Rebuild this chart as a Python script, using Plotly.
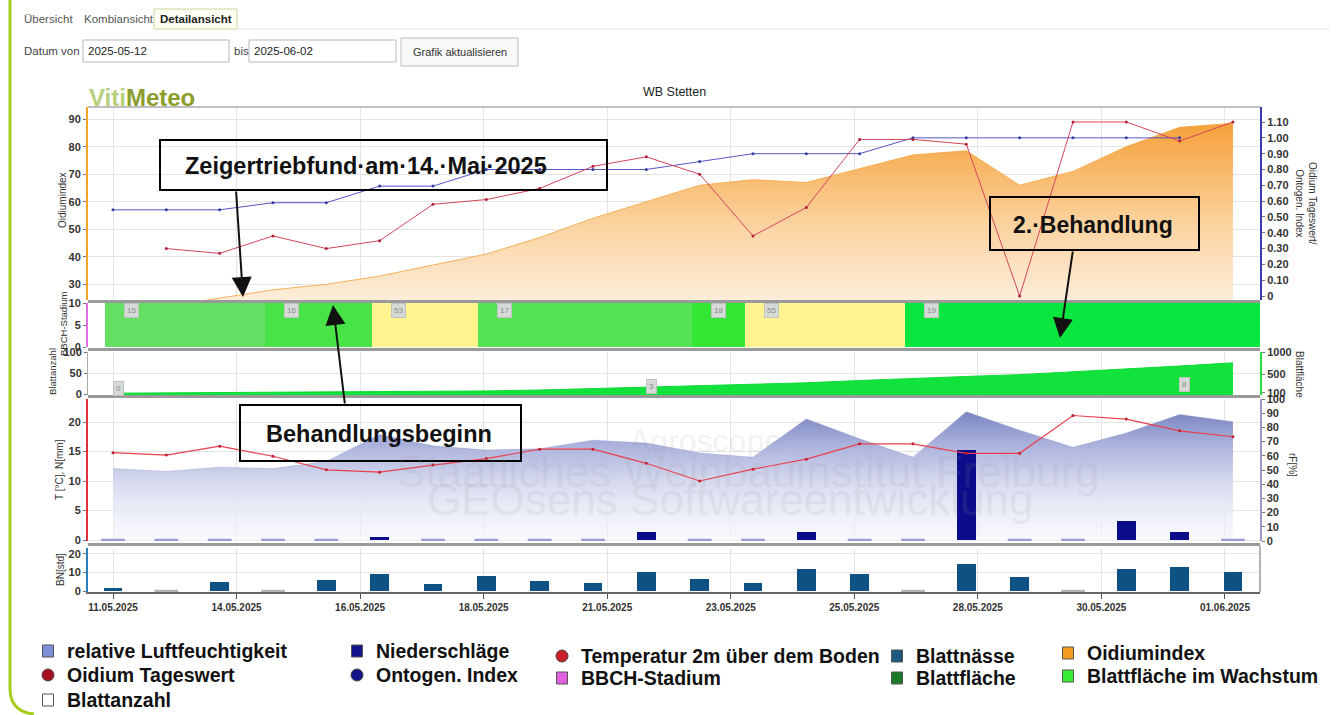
import plotly.graph_objects as go

W, H = 1343, 715

# ---------------- data ----------------
dates = ["11.05.2025", "12.05.2025", "13.05.2025", "14.05.2025", "15.05.2025", "16.05.2025",
         "17.05.2025", "18.05.2025", "19.05.2025", "20.05.2025", "21.05.2025", "22.05.2025",
         "23.05.2025", "24.05.2025", "25.05.2025", "26.05.2025", "27.05.2025", "28.05.2025",
         "29.05.2025", "30.05.2025", "31.05.2025", "01.06.2025"]
day_idx = list(range(len(dates)))

tick_labels = ["11.05.2025", "14.05.2025", "16.05.2025", "18.05.2025", "21.05.2025",
               "23.05.2025", "25.05.2025", "28.05.2025", "30.05.2025", "01.06.2025"]

oidium_index = [18, 22, 25, 28, 30, 33, 37, 41, 47, 54, 60, 66, 68, 67, 72, 77, 78.5, 66, 71, 80, 87, 88.5]
oidium_tageswert = [None, 0.30, 0.27, 0.38, 0.30, 0.35, 0.58, 0.61, 0.68, 0.82, 0.88, 0.77,
                    0.38, 0.56, 0.99, 0.99, 0.96, 0.0, 1.10, 1.10, 0.98, 1.10]
ontogen_index = [0.545, 0.545, 0.545, 0.59, 0.59, 0.695, 0.695, 0.80, 0.80, 0.80, 0.80, 0.85,
                 0.90, 0.90, 0.90, 1.00, 1.00, 1.00, 1.00, 1.00, 1.00, None]
bbch = [15, 15, 15, 16, 16, 53, 53, 17, 17, 17, 17, 18, 55, 55, 55, 19, 19, 19, 19, 19, 19, 19]
blattflaeche = [90, 95, 100, 105, 110, 115, 125, 140, 160, 190, 220, 250, 280, 320, 370, 420,
                460, 500, 560, 620, 690, 760]
blattanzahl_days = [0, 10, 20]
blattanzahl = [0, 3, 8]
rel_feuchte = [51, 49, 52, 51, 56, 75, 67, 64, 65, 71, 69, 62, 59, 86, 72, 59, 91, 78, 66, 76, 89, 84]
temperatur = [14.8, 14.4, 15.9, 14.2, 11.9, 11.5, 12.7, 13.8, 15.4, 15.4, 13.0, 10.0, 12.0, 13.7,
              16.3, 16.3, 14.7, 14.7, 21.1, 20.5, 18.5, 17.5]
niederschlag = [0, 0, 0, 0, 0, 0.5, 0, 0, 0, 0, 1.4, 0, 0, 1.4, 0, 0, 15.2, 0, 0, 3.2, 1.4, 0]
blattnaesse = [1.5, 0, 4.7, 0, 5.9, 9.0, 4.0, 8.3, 5.6, 4.5, 10.4, 6.7, 4.5, 11.7, 9.0, 0, 14.6,
               7.7, 0, 12.1, 13.0, 10.3]

bbch_colors = {15: '#63e063', 16: '#47e347', 53: '#fff48e', 17: '#55e255', 18: '#33e633',
               55: '#fff48e', 19: '#0ae640'}

# ---------------- helpers ----------------
def PX(x):
    return x / W

def PY(y):
    return 1 - y / H

XR = [-0.469, 21.507]
XDOM = [PX(88), PX(1260)]
tickvals = [k * 20.85 / 9 for k in range(len(tick_labels))]
FONT = "Liberation Sans, Arial, sans-serif"
tickfont = dict(size=11, color='#333', family=FONT, weight='bold')

fig = go.Figure()

# top panel
fig.add_trace(go.Scatter(
    x=day_idx, y=oidium_index, xaxis='x', yaxis='y', mode='lines',
    line=dict(color='#f4a23a', width=0.8), fill='tozeroy',
    fillgradient=dict(type='vertical', start=20, stop=90,
                      colorscale=[[0, '#fdf1e3'], [0.45, '#fbd3a0'], [1, '#f59f36']]),
    hoverinfo='skip'))
fig.add_trace(go.Scatter(
    x=day_idx, y=ontogen_index, xaxis='x', yaxis='y2', mode='lines+markers',
    line=dict(color='#5555c8', width=1), marker=dict(size=3, color='#3a3aa0')))
fig.add_trace(go.Scatter(
    x=day_idx, y=oidium_tageswert, xaxis='x', yaxis='y2', mode='lines+markers',
    line=dict(color='#d4455c', width=1), marker=dict(size=3, color='#b02038')))

# BBCH panel
fig.add_trace(go.Bar(
    x=day_idx, y=[10] * len(day_idx), xaxis='x2', yaxis='y3', width=1, offset=-0.15,
    marker=dict(color=[bbch_colors[b] for b in bbch], line=dict(width=0))))

# Blatt panel
fig.add_trace(go.Scatter(
    x=day_idx, y=blattflaeche, xaxis='x3', yaxis='y5', mode='lines',
    line=dict(color='#10d838', width=1), fill='tozeroy', fillcolor='#12e23c'))
fig.add_trace(go.Scatter(
    x=blattanzahl_days, y=blattanzahl, xaxis='x3', yaxis='y4', mode='markers',
    marker=dict(size=1, color='rgba(0,0,0,0)')))

# temperature / humidity / precipitation panel
fig.add_trace(go.Scatter(
    x=day_idx, y=rel_feuchte, xaxis='x4', yaxis='y6', mode='lines',
    line=dict(color='rgba(120,132,194,0.6)', width=0.5), fill='tozeroy',
    fillgradient=dict(type='vertical', start=0, stop=92,
                      colorscale=[[0, 'rgba(246,247,252,0.6)'], [0.45, '#d6daee'],
                                  [0.75, '#a9b0db'], [1, '#7883c0']])))
zero_n = [i for i, v in zip(day_idx, niederschlag) if v == 0]
fig.add_trace(go.Scatter(
    x=zero_n, y=[0] * len(zero_n), xaxis='x4', yaxis='y7', mode='markers',
    marker=dict(symbol='line-ew', size=17, line=dict(color='#9a9ad6', width=2.5))))
fig.add_trace(go.Bar(
    x=day_idx, y=niederschlag, xaxis='x4', yaxis='y7', width=0.35,
    marker=dict(color='#0c0c8a', line=dict(width=0))))
fig.add_trace(go.Scatter(
    x=day_idx, y=temperatur, xaxis='x4', yaxis='y7', mode='lines+markers',
    line=dict(color='#e8404e', width=1.2), marker=dict(size=3, color='#c02030')))

# BN panel
zero_bn = [i for i, v in zip(day_idx, blattnaesse) if v == 0]
fig.add_trace(go.Scatter(
    x=zero_bn, y=[0] * len(zero_bn), xaxis='x5', yaxis='y8', mode='markers',
    marker=dict(symbol='line-ew', size=17, line=dict(color='#b4b4b4', width=2.5))))
fig.add_trace(go.Bar(
    x=day_idx, y=blattnaesse, xaxis='x5', yaxis='y8', width=0.35,
    marker=dict(color='#0d5282', line=dict(width=0))))

# ---------------- axes ----------------
def xax(anchor, labels=False):
    d = dict(domain=XDOM, range=XR, anchor=anchor, tickvals=tickvals, showgrid=True,
             gridcolor='#e4e4e4', gridwidth=1, zeroline=False, fixedrange=True, automargin=False)
    if labels:
        d.update(ticktext=tick_labels, showticklabels=True, ticks='outside', ticklen=5,
                 tickcolor='#555', showline=True, linecolor='#666', linewidth=2,
                 tickfont=dict(size=10, color='#333', family=FONT, weight='bold'))
    else:
        d.update(showticklabels=False, ticks='')
    return d

def yax(dom, rng, tv, lc, side='left', anchor='x', grid=False, overlay=None, tt=None, lw=2):
    d = dict(domain=[PY(dom[1]), PY(dom[0])], range=rng, tickvals=tv, side=side, anchor=anchor,
             showline=True, linecolor=lc, linewidth=lw, ticks='outside', ticklen=3,
             tickcolor='#777', showgrid=grid, gridcolor='#e4e4e4', zeroline=False,
             tickfont=tickfont, fixedrange=True, automargin=False)
    if tt is not None:
        d['ticktext'] = tt
    if overlay:
        d['overlaying'] = overlay
    return d

layout_axes = dict(
    xaxis=xax('y'), xaxis2=xax('y3'), xaxis3=xax('y4'), xaxis4=xax('y6'), xaxis5=xax('y8', True),
    yaxis=yax((107, 300), [24.3, 94.4], [30, 40, 50, 60, 70, 80, 90], '#f5a623', anchor='x', grid=True),
    yaxis2=yax((107, 300), [-0.025, 1.195], [k / 10 for k in range(12)], '#3a3aa8', side='right',
               anchor='x', overlay='y',
               tt=['0'] + ['%.2f' % (k / 10) for k in range(1, 12)]),
    yaxis3=yax((303, 347), [0, 10], [0, 5, 10], '#e070e0', anchor='x2'),
    yaxis4=yax((352, 395), [-2, 100], [0, 50, 100], '#aaaaaa', anchor='x3', grid=True, lw=1),
    yaxis5=yax((352, 395), [50, 1000], [100, 500, 1000], '#22dd44', side='right', anchor='x3',
               overlay='y4'),
    yaxis6=yax((399, 541), [0, 100], list(range(0, 101, 10)), '#9a9acc', side='right', anchor='x4',
               lw=1.5),
    yaxis7=yax((399, 541), [-0.17, 23.9], [0, 5, 10, 15, 20], '#e0303a', anchor='x4', grid=True,
               overlay='y6'),
    yaxis8=yax((548, 592), [-0.54, 23.2], [0, 10, 20], '#2a7fbf', anchor='x5', grid=True),
)

# ---------------- shapes & annotations ----------------
shapes = []
annotations = []

def sline(x0, y0, x1, y1, color, width, layer='above'):
    shapes.append(dict(type='line', xref='paper', yref='paper', x0=PX(x0), y0=PY(y0),
                       x1=PX(x1), y1=PY(y1), line=dict(color=color, width=width), layer=layer))

def srect(x0, y0, x1, y1, color, width, fill='rgba(0,0,0,0)', layer='above'):
    shapes.append(dict(type='rect', xref='paper', yref='paper', x0=PX(x0), y0=PY(y0),
                       x1=PX(x1), y1=PY(y1), line=dict(color=color, width=width),
                       fillcolor=fill, layer=layer))

def scirc(xc, yc, r, fill, color):
    shapes.append(dict(type='circle', xref='paper', yref='paper', x0=PX(xc - r), y0=PY(yc + r),
                       x1=PX(xc + r), y1=PY(yc - r), line=dict(color=color, width=1),
                       fillcolor=fill, layer='above'))

def text(x, y, s, size, color='#222', bold=False, xanchor='left', yanchor='middle', angle=0):
    annotations.append(dict(x=PX(x), y=PY(y), xref='paper', yref='paper', text=s,
                            showarrow=False, xanchor=xanchor, yanchor=yanchor, textangle=angle,
                            font=dict(size=size, color=color, family=FONT,
                                      weight='bold' if bold else 'normal')))

def arrow(tx, ty, hx, hy):
    annotations.append(dict(x=PX(hx), y=PY(hy), xref='paper', yref='paper', text='',
                            showarrow=True, ax=tx - hx, ay=ty - hy, arrowhead=2, arrowsize=2,
                            arrowwidth=2, arrowcolor='#111'))

# page frame (green border)
shapes.append(dict(type='path', xref='paper', yref='paper',
                   path='M %f,%f L %f,%f Q %f,%f %f,%f' % (PX(10), PY(0), PX(10), PY(688),
                                                          PX(10), PY(712), PX(34), PY(714)),
                   line=dict(color='#a6cc1e', width=3)))

# header UI
text(22, 19, "Übersicht", 11.5, '#555')
text(82, 19, "Kombiansicht", 11.5, '#555')
srect(154, 9, 237, 29, '#cfd59a', 1, fill='#fdfdf4')
text(158, 19, "Detailansicht", 11.5, '#222', bold=True)
sline(237, 29, 1330, 29, '#e4e4e4', 1)
text(22, 51, "Datum von", 11.5, '#444')
srect(83, 40, 229, 62, '#b8b8b8', 1, fill='white')
text(86, 51, "2025-05-12", 11.5, '#222')
text(232, 51, "bis", 11.5, '#444')
srect(249, 40, 396, 62, '#b8b8b8', 1, fill='white')
text(252, 51, "2025-06-02", 11.5, '#222')
srect(401, 38, 518, 66, '#bdbdbd', 1, fill='#f8f8f8')
text(460, 52, "Grafik aktualisieren", 11, '#333', xanchor='center')

annotations.append(dict(x=PX(87), y=PY(97), xref='paper', yref='paper', showarrow=False,
                        xanchor='left', yanchor='middle',
                        text="<span style='color:#b7d07c'>Viti</span><span style='color:#8a9c2a'>Meteo</span>",
                        font=dict(size=24, family=FONT, weight='bold')))
text(675, 92, "WB Stetten", 12.5, '#222', xanchor='center')

# watermark
WM = 'rgba(150,150,150,0.14)'
text(705, 441, "Agroscope", 32, WM, xanchor='center')
text(748, 471, "Staatliches Weinbauinstitut Freiburg", 44, WM, xanchor='center')
text(730, 499, "GEOsens Softwareentwicklung", 44, WM, xanchor='center')

# panel borders
sline(88, 107, 1260, 107, '#aaaaaa', 1.5)
for yy in (301.5, 349.5, 396.5, 544.5):
    sline(88, yy, 1260, yy, '#9a9a9a', 3)
sline(1260, 546, 1260, 592, '#9a9a9a', 1.5)

# BBCH stage labels (at stage changes)
for i, b in enumerate(bbch):
    if i == 0 or bbch[i - 1] != b:
        annotations.append(dict(x=i + 0.35, y=8.4, xref='x2', yref='y3', text=str(b),
                                showarrow=False, bgcolor='#d6dad6', bordercolor='#c2c2c2',
                                borderwidth=1, borderpad=2,
                                font=dict(size=8, color='#8a8a8a', family=FONT)))
# Blattanzahl labels
for d, n in zip(blattanzahl_days, blattanzahl):
    annotations.append(dict(x=d + 0.1, y=n, xref='x3', yref='y4', yshift=6, text=str(n),
                            showarrow=False, bgcolor='#d6dad6', bordercolor='#c2c2c2',
                            borderwidth=1, borderpad=2,
                            font=dict(size=8, color='#8a8a8a', family=FONT)))

# axis titles
text(62, 200, "Oidiumindex", 10, '#333', xanchor='center', angle=-90)
text(63, 324, "BBCH-Stadium", 9.5, '#333', xanchor='center', angle=-90)
text(52, 372, "Blattanzahl", 9.5, '#333', xanchor='center', angle=-90)
text(60, 470, "T [°C], N[mm]", 10, '#333', xanchor='center', angle=-90)
text(60, 570, "BN[std]", 10, '#333', xanchor='center', angle=-90)
text(1306, 203, "Oidium Tageswert/<br>Ontogen. Index", 10, '#333', xanchor='center', angle=90)
text(1300, 374, "Blattfläche", 10, '#333', xanchor='center', angle=90)
text(1293, 465, "rF[%]", 10, '#333', xanchor='center', angle=90)

# callout boxes
srect(160, 140, 607, 190, '#000', 2)
text(183, 166, "Zeigertriebfund\u00b7am\u00b714.\u00b7Mai\u00b72025", 23.5, '#111', bold=True)
arrow(236, 190, 243, 297)
srect(240, 405, 521, 461, '#000', 2)
text(264, 434, "Behandlungsbeginn", 23.5, '#111', bold=True)
arrow(345, 405, 333, 305)
srect(990, 197, 1199, 250, '#000', 2)
text(1011, 225, "2.\u00b7Behandlung", 23, '#111', bold=True)
arrow(1073, 250, 1060, 338)

# legend
legend_items = [
    ("relative Luftfeuchtigkeit", 'sq', '#7d8fd8', 48, 651),
    ("Niederschläge", 'sq', '#14148c', 357, 651),
    ("Temperatur 2m über dem Boden", 'ci', '#cc1f2a', 562, 656),
    ("Blattnässe", 'sq', '#1d5a82', 897, 656),
    ("Oidiumindex", 'sq', '#f39c1f', 1068, 653),
    ("Oidium Tageswert", 'ci', '#a50f20', 48, 675),
    ("Ontogen. Index", 'ci', '#16168a', 357, 675),
    ("BBCH-Stadium", 'sq', '#e060e0', 562, 678),
    ("Blattfläche", 'sq', '#1a7a2a', 897, 678),
    ("Blattfläche im Wachstum", 'sq', '#33ee33', 1068, 676),
    ("Blattanzahl", 'sq', '#ffffff', 48, 700),
]
for label, kind, col, lx, ly in legend_items:
    if kind == 'sq':
        srect(lx - 5.5, ly - 6, lx + 5.5, ly + 6, '#555', 1, fill=col)
    else:
        scirc(lx, ly, 6, col, '#444')
    text(lx + 17, ly, label, 19.5, '#111', bold=True)

fig.update_layout(
    width=W, height=H, autosize=False, margin=dict(l=0, r=0, t=0, b=0, pad=0, autoexpand=False),
    paper_bgcolor='white', plot_bgcolor='white', showlegend=False, hovermode=False,
    bargap=0, shapes=shapes, annotations=annotations, **layout_axes)

fig.write_html("out.html", config={'displayModeBar': False, 'staticPlot': True},
               post_script="document.body.style.margin='0px';document.body.style.overflow='hidden';")
